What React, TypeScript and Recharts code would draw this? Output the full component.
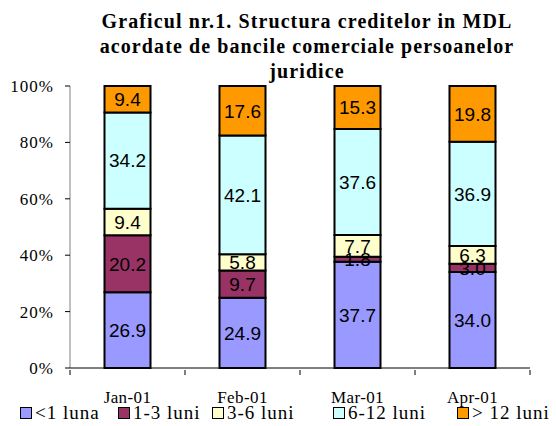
import React from 'react';
import { BarChart, Bar, XAxis, YAxis, LabelList } from 'recharts';

const months = ['Jan-01', 'Feb-01', 'Mar-01', 'Apr-01'];
const sub1 = [26.9, 24.9, 37.7, 34.0];
const m1to3 = [20.2, 9.7, 1.8, 3.0];
const m3to6 = [9.4, 5.8, 7.7, 6.3];
const m6to12 = [34.2, 42.1, 37.6, 36.9];
const over12 = [9.4, 17.6, 15.3, 19.8];
const yTicks = [0, 0.2, 0.4, 0.6, 0.8, 1];

const series = [
  { key: 'a', name: '<1 luna', color: '#9999FF' },
  { key: 'b', name: '1-3 luni', color: '#993366' },
  { key: 'c', name: '3-6 luni', color: '#FFFFCC' },
  { key: 'd', name: '6-12 luni', color: '#CCFFFF' },
  { key: 'e', name: '> 12 luni', color: '#FF9900' },
];
// legend item left edges
const legendX = [20, 118, 212, 333, 457];

const data = months.map((m, i) => ({
  month: m,
  a: sub1[i],
  b: m1to3[i],
  c: m3to6[i],
  d: m6to12[i],
  e: over12[i],
}));

const serif = '"Liberation Serif", "Times New Roman", serif';
const sans = '"Liberation Sans", Arial, sans-serif';
const BAND = 115;

const XTick = (props: any) => {
  const { x, y, payload, index } = props;
  return (
    <g>
      <line x1={x - BAND / 2} y1={y - 6} x2={x - BAND / 2} y2={y - 1} stroke="#000" />
      {index === months.length - 1 && (
        <line x1={x + BAND / 2} y1={y - 6} x2={x + BAND / 2} y2={y - 1} stroke="#000" />
      )}
      <text x={x} y={y + 27} textAnchor="middle" fontFamily={serif} fontSize={17} letterSpacing={0.4} fill="#000">
        {payload.value}
      </text>
    </g>
  );
};

const YTick = (props: any) => {
  const { x, y, payload } = props;
  return (
    <text x={x - 9} y={y + 6} textAnchor="end" fontFamily={serif} fontSize={17} letterSpacing={1} fill="#000">
      {`${Math.round(payload.value * 100)}%`}
    </text>
  );
};

export default function App() {
  return (
    <div style={{ position: 'absolute', left: 0, top: 0, width: 556, height: 426, background: '#fff' }}>
      <div
        style={{
          position: 'absolute', left: 60, width: 494, top: 9, textAlign: 'center',
          fontFamily: serif, fontWeight: 'bold', fontSize: 20, lineHeight: '25px',
          letterSpacing: 1.1, color: '#000',
        }}
      >
        Graficul nr.1. Structura creditelor in MDL<br />
        acordate de bancile comerciale persoanelor<br />
        juridice
      </div>
      <BarChart
        width={556}
        height={426}
        data={data}
        stackOffset="expand"
        barCategoryGap="30%"
        margin={{ top: 86, right: 26, left: 10, bottom: 28 }}
      >
        <YAxis
          width={60}
          ticks={yTicks}
          domain={[0, 1]}
          tick={<YTick />}
          stroke="#808080"
          tickSize={5}
          tickLine={{ stroke: '#000' }}
        />
        <XAxis
          dataKey="month"
          height={30}
          stroke="#000"
          tickLine={false}
          tick={<XTick />}
          interval={0}
        />
        {series.map((s) => (
          <Bar
            key={s.key}
            dataKey={s.key}
            name={s.name}
            stackId="s"
            fill={s.color}
            stroke="#000"
            strokeWidth={2}
            isAnimationActive={false}
          >
            <LabelList
              dataKey={s.key}
              position="center"
              formatter={(v: number) => v.toFixed(1)}
              style={{ fontFamily: sans, fontSize: 19, fill: '#000' }}
            />
          </Bar>
        ))}
      </BarChart>
      {series.map((s, i) => (
        <div
          key={s.key}
          style={{
            position: 'absolute', left: legendX[i], top: 402, height: 22,
            display: 'flex', alignItems: 'center', whiteSpace: 'nowrap',
            fontFamily: serif, fontSize: 19, letterSpacing: 1.0, color: '#000',
          }}
        >
          <span
            style={{
              display: 'inline-block', width: 10, height: 10, background: s.color,
              border: '1px solid #000', marginRight: 3,
            }}
          />
          {s.name}
        </div>
      ))}
    </div>
  );
}
